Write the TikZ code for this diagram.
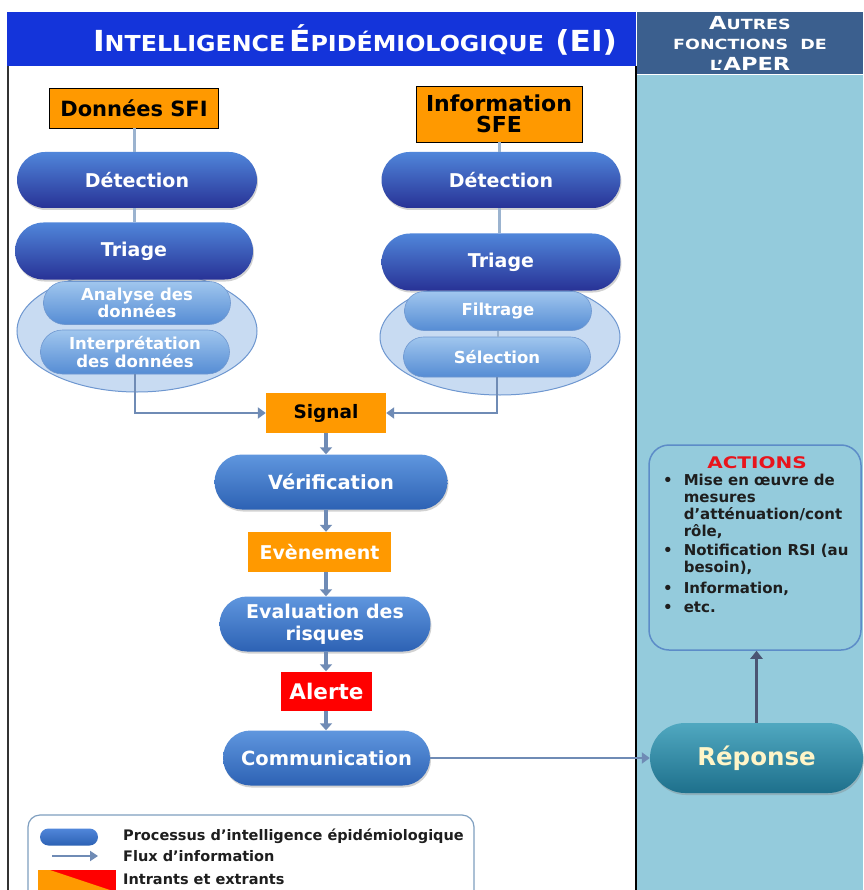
\documentclass[tikz,border=0pt]{standalone}
\usepackage{fontspec}
\setmainfont{DejaVu Sans}
\usetikzlibrary{shapes.misc,shapes.geometric,arrows.meta,shadows}
\definecolor{titleblue}{RGB}{20,52,218}
\definecolor{headblue}{RGB}{59,95,142}
\definecolor{colblue}{RGB}{148,203,220}
\definecolor{orng}{RGB}{255,153,0}
\definecolor{alertred}{RGB}{255,0,0}
\definecolor{dtop}{RGB}{80,134,218}
\definecolor{dbot}{RGB}{40,50,150}
\definecolor{mtop}{RGB}{95,150,222}
\definecolor{mbot}{RGB}{45,98,180}
\definecolor{stop}{RGB}{160,198,238}
\definecolor{sbot}{RGB}{85,140,212}
\definecolor{ellfill}{RGB}{200,219,242}
\definecolor{elldraw}{RGB}{110,151,208}
\definecolor{connc}{RGB}{155,179,207}
\definecolor{arrc}{RGB}{111,139,181}
\definecolor{ttop}{RGB}{80,168,192}
\definecolor{tbot}{RGB}{30,112,140}
\definecolor{cream}{RGB}{255,245,200}
\definecolor{actred}{RGB}{232,20,28}
\definecolor{actborder}{RGB}{92,140,200}
\definecolor{legborder}{RGB}{127,159,192}
\definecolor{txtdark}{RGB}{30,30,30}
\definecolor{slate}{RGB}{75,85,115}
\newcommand\fsz[2]{\fontsize{#1}{#2}\selectfont}
\newcommand\tsc[4]{{\fontsize{#1}{#1}\selectfont #3}{\fontsize{#2}{#2}\selectfont #4}}
\tikzset{
  pilldark/.style={rounded rectangle, inner sep=0pt, top color=dtop, bottom color=dbot, text=white,
     font=\bfseries\fsz{19}{21}, drop shadow={opacity=0.35, shadow xshift=1pt, shadow yshift=-2pt}},
  pillmid/.style={rounded rectangle, inner sep=0pt, top color=mtop, bottom color=mbot, text=white,
     font=\bfseries\fsz{19.5}{22}, align=center, drop shadow={opacity=0.35, shadow xshift=1pt, shadow yshift=-2pt}},
  pillsub/.style={rounded rectangle, inner sep=0pt, top color=stop, bottom color=sbot, text=white,
     font=\bfseries\fsz{16.5}{17.5}, align=center, draw=elldraw, line width=0.6pt},
  ovalbg/.style={ellipse, inner sep=0pt, fill=ellfill, draw=elldraw, line width=1pt},
  iobox/.style={rectangle, inner sep=0pt, fill=orng, font=\bfseries\fsz{19}{21}, align=center},
  conn/.style={draw=connc, line width=3pt},
  flow/.style={draw=arrc, line width=2.5pt, -{Triangle[length=8pt,width=11pt]}},
  downflow/.style={draw=arrc, line width=4pt, -{Triangle[length=7pt,width=12pt]}},
}
\begin{document}
\begin{tikzpicture}[x=1pt,y=-1pt]
\useasboundingbox (0,0) rectangle (863,890);
\fill[white] (0,0) rectangle (863,890);
% right column
\fill[colblue] (637,75) rectangle (863,890);
\fill[headblue] (637,12) rectangle (863,74);
\fill[titleblue] (7,12) rectangle (636,66);
\draw[black!80, line width=2pt] (8,66) -- (8,890);
\draw[black, line width=2pt] (636,66) -- (636,890);
\node[text=white, font=\bfseries] (title) at (355,40)
  {\scalebox{1.08}[1]{\tsc{29}{22}{I}{NTELLIGENCE} \tsc{29}{22}{É}{PIDÉMIOLOGIQUE}\ \ \ \fsz{29}{30}(EI)}};
\node[text=white, font=\bfseries\fsz{14}{20.5}, align=center, inner sep=0pt] (head) at (750,43)
  {\scalebox{1.25}[1]{\tsc{18}{14}{A}{UTRES}}\\
   \scalebox{1.25}[1]{FONCTIONS\ \ DE}\\
   \scalebox{1.25}[1]{\tsc{14}{18}{L’}{APER}}};
% ellipses behind
\node[ovalbg, minimum width=240pt, minimum height=122pt] (ellL) at (137,331) {};
\node[ovalbg, minimum width=240pt, minimum height=116pt] (ellR) at (500,337) {};
% top boxes
\node[iobox, draw=black, line width=0.8pt, minimum width=169pt, minimum height=40pt, font=\bfseries\fsz{21}{22}] (sfi) at (134,108) {Données SFI};
\node[iobox, draw=black, line width=0.8pt, minimum width=166pt, minimum height=56pt, font=\bfseries\fsz{22}{20.5}] (sfe) at (499,114) {Information\\SFE};
% pills
\node[pilldark, minimum width=240pt, minimum height=56pt] (detL) at (137,180) {Détection};
\node[pilldark, minimum width=238pt, minimum height=57pt] (triL) at (134,251) {Triage};
\node[pilldark, minimum width=239pt, minimum height=56pt] (detR) at (501,180) {Détection};
\node[pilldark, minimum width=239pt, minimum height=57pt] (triR) at (501,262) {Triage};
\node[pillsub, minimum width=187pt, minimum height=43pt] (ana) at (137,303) {Analyse des\\données};
\node[pillsub, minimum width=189pt, minimum height=44pt] (interp) at (135,352) {Interprétation\\des données};
\node[pillsub, minimum width=187pt, minimum height=39pt] (filt) at (498,311) {Filtrage};
\node[pillsub, minimum width=187pt, minimum height=40pt] (sel) at (497,357) {Sélection};
% center column
\node[iobox, minimum width=120pt, minimum height=40pt, font=\bfseries\fsz{18.5}{20}] (signal) at (326,413) {Signal};
\node[pillmid, minimum width=233pt, minimum height=55pt] (verif) at (331,482) {Vérification};
\node[iobox, minimum width=143pt, minimum height=40pt, text=white] (event) at (319.5,552) {Evènement};
\node[pillmid, minimum width=211pt, minimum height=55pt, font=\bfseries\fsz{19}{22}] (evalr) at (325,624) {Evaluation des\\risques};
\node[iobox, fill=alertred, minimum width=91pt, minimum height=39pt, text=white, font=\bfseries\fsz{21.5}{22}] (alert) at (326.5,691) {Alerte};
\node[pillmid, minimum width=207pt, minimum height=55pt] (comm) at (326.5,758) {Communication};
% right column content
\node[rounded rectangle, inner sep=0pt, minimum width=213pt, minimum height=70pt, top color=ttop, bottom color=tbot,
  text=cream, font=\bfseries\fsz{24.5}{26}, drop shadow={opacity=0.35, shadow xshift=1pt, shadow yshift=-2pt}] (rep) at (756.5,758) {Réponse};
\node[draw=actborder, line width=1.5pt, fill=colblue, rounded corners=20pt, minimum width=212pt, minimum height=205pt, inner sep=0pt] (act) at (755,547.5) {};
\node[text=actred, font=\bfseries\fsz{16}{17}] (acttitle) at (757,463) {\scalebox{1.25}[1]{ACTIONS}};
\node[anchor=north west, inner sep=0pt, text=txtdark, font=\bfseries\fsz{15}{16.5}] (actlist) at (663,474)
  {\begin{tabular}{@{}l@{\hspace{11pt}}l@{}}
   •& Mise en œuvre de\\
    & mesures\\
    & d’atténuation/cont\\
    & rôle,\\[3pt]
   •& Notification RSI (au\\
    & besoin),\\[4.5pt]
   •& Information,\\[3pt]
   •& etc.
   \end{tabular}};
% connectors
\draw[conn] (sfi.south) -- (sfi.south |- detL.north);
\draw[conn] (detL.south -| sfi.south) -- (sfi.south |- triL.north);
\draw[conn] (sfe.south) -- (sfe.south |- detR.north);
\draw[conn] (detR.south -| sfe.south) -- (sfe.south |- triR.north);
\draw[conn, line width=2pt] (filt.south) -- (filt.south |- sel.north);
\draw[flow] (interp.south) |- (signal.west);
\draw[flow] (sel.south) |- (signal.east);
\draw[downflow] (signal.south) -- (signal.south |- verif.north);
\draw[downflow] (verif.south -| signal.south) -- (signal.south |- event.north);
\draw[downflow] (event.south -| signal.south) -- (signal.south |- evalr.north);
\draw[downflow] (evalr.south -| signal.south) -- (signal.south |- alert.north);
\draw[downflow] (alert.south -| signal.south) -- (signal.south |- comm.north);
\draw[flow] (comm.east) -- (rep.west);
\draw[draw=slate, line width=3pt, -{Triangle[length=8pt,width=12pt]}] (rep.north) -- (act.south -| rep.north);
% legend
\node[draw=legborder, line width=1.2pt, rounded corners=12pt, minimum width=446pt, minimum height=100pt, inner sep=0pt] (leg) at (251,865) {};
\node[rounded rectangle, inner sep=0pt, minimum width=58pt, minimum height=17pt, top color=dtop, bottom color=mbot] (legpill) at (69,837) {};
\coordinate (legA) at (52,856);
\coordinate (legB) at (98,856);
\draw[draw=arrc, line width=2.5pt, -{Triangle[length=8pt,width=10pt]}] (legA) -- (legB);
\fill[alertred] (38,870) rectangle (116,892);
\fill[orng] (38,870) -- (50,870) -- (116,892) -- (38,892) -- cycle;
\node[anchor=west, inner sep=0pt, text=txtdark, font=\bfseries\fsz{14.5}{15}] (leg1) at (123,836) {Processus d’intelligence épidémiologique};
\node[anchor=west, inner sep=0pt, text=txtdark, font=\bfseries\fsz{14.5}{15}] (leg2) at (123,856) {Flux d’information};
\node[anchor=west, inner sep=0pt, text=txtdark, font=\bfseries\fsz{14.5}{15}] (leg3) at (123,879) {Intrants et extrants};
\end{tikzpicture}
\end{document}
